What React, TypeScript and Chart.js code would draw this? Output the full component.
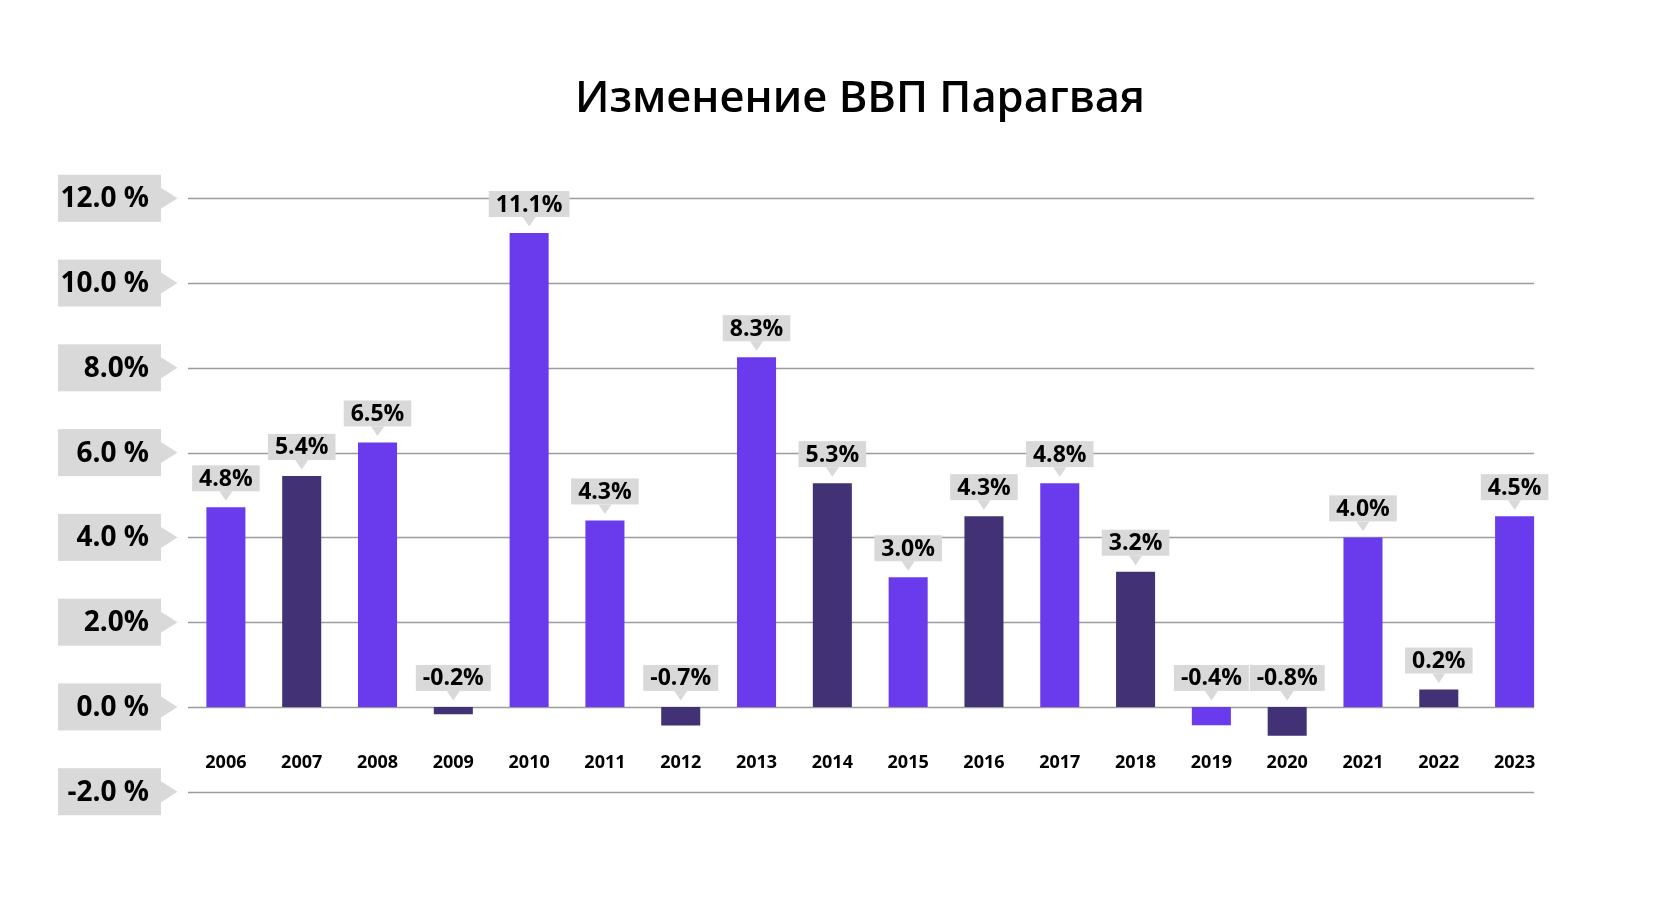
import { useEffect, useRef } from "react";
import { Chart, registerables, ChartConfiguration, Plugin } from "chart.js";

Chart.register(...registerables);

const TITLE = "Изменение ВВП Парагвая";

const years = [
  "2006", "2007", "2008", "2009", "2010", "2011", "2012", "2013", "2014",
  "2015", "2016", "2017", "2018", "2019", "2020", "2021", "2022", "2023",
];

// bar heights as drawn in the picture
const gdpValues = [
  4.71, 5.45, 6.24, -0.17, 11.18, 4.4, -0.44, 8.25, 5.28,
  3.06, 4.5, 5.28, 3.19, -0.43, -0.68, 4.0, 0.41, 4.5,
];

// callout texts printed above the bars
const gdpLabels = [
  "4.8%", "5.4%", "6.5%", "-0.2%", "11.1%", "4.3%", "-0.7%", "8.3%", "5.3%",
  "3.0%", "4.3%", "4.8%", "3.2%", "-0.4%", "-0.8%", "4.0%", "0.2%", "4.5%",
];

const yTicks = [-2, 0, 2, 4, 6, 8, 10, 12];
const yTickLabels = ["-2.0 %", "0.0 %", "2.0%", "4.0 %", "6.0 %", "8.0%", "10.0 %", "12.0 %"];

const LIGHT = "#6a3bec";
const DARK = "#433176";
const barColors = [
  LIGHT, DARK, LIGHT, DARK, LIGHT, LIGHT, DARK, LIGHT, DARK,
  LIGHT, DARK, LIGHT, DARK, LIGHT, DARK, LIGHT, DARK, LIGHT,
];

const FONT = "'Open Sans', 'DejaVu Sans', sans-serif";
const BOX_GRAY = "#d9d9d9";

const decorPlugin: Plugin<"bar"> = {
  id: "decor",
  beforeDatasetsDraw(chart) {
    const { ctx, chartArea } = chart;
    const y = chart.scales.y;
    const meta = chart.getDatasetMeta(0);
    const last = meta.data[meta.data.length - 1] as any;
    const right = last.x + last.width / 2;

    ctx.save();
    // grid lines
    ctx.strokeStyle = "#9c9c9c";
    ctx.lineWidth = 1.5;
    yTicks.forEach((v) => {
      const py = Math.round(y.getPixelForValue(v)) + 0.5;
      ctx.beginPath();
      ctx.moveTo(chartArea.left, py);
      ctx.lineTo(right, py);
      ctx.stroke();
    });

    // tick boxes with arrows
    ctx.font = `700 28px ${FONT}`;
    ctx.textAlign = "right";
    ctx.textBaseline = "middle";
    yTicks.forEach((v, i) => {
      const py = y.getPixelForValue(v);
      const bx = chartArea.left - 130;
      const bw = 103;
      const bh = 47;
      ctx.fillStyle = BOX_GRAY;
      ctx.fillRect(bx, py - bh / 2, bw, bh);
      ctx.beginPath();
      ctx.moveTo(bx + bw, py - 10.5);
      ctx.lineTo(bx + bw + 16.5, py);
      ctx.lineTo(bx + bw, py + 10.5);
      ctx.closePath();
      ctx.fill();
      ctx.fillStyle = "#000";
      ctx.fillText(yTickLabels[i], bx + 91, py + 1);
    });
    ctx.restore();
  },
  afterDatasetsDraw(chart) {
    const { ctx } = chart;
    const x = chart.scales.x;
    const y = chart.scales.y;
    const meta = chart.getDatasetMeta(0);

    ctx.save();
    // value callouts
    ctx.font = `700 23px ${FONT}`;
    ctx.textAlign = "center";
    ctx.textBaseline = "middle";
    meta.data.forEach((bar: any, i) => {
      const top = Math.min(bar.y, y.getPixelForValue(0));
      const tipY = top - 6.5;
      const boxBottom = tipY - 9.5;
      const boxH = 26;
      const tw = ctx.measureText(gdpLabels[i]).width;
      const bw = Math.max(65, tw + 14);
      ctx.fillStyle = BOX_GRAY;
      ctx.fillRect(bar.x - bw / 2, boxBottom - boxH, bw, boxH);
      ctx.beginPath();
      ctx.moveTo(bar.x - 6.5, boxBottom);
      ctx.lineTo(bar.x, tipY);
      ctx.lineTo(bar.x + 6.5, boxBottom);
      ctx.closePath();
      ctx.fill();
      ctx.fillStyle = "#000";
      ctx.fillText(gdpLabels[i], bar.x, boxBottom - boxH / 2 + 1);
    });

    // year labels
    ctx.font = `700 18px ${FONT}`;
    ctx.fillStyle = "#000";
    years.forEach((yr, i) => {
      ctx.fillText(yr, x.getPixelForValue(i), 763);
    });

    // title
    ctx.font = `600 43.5px ${FONT}`;
    ctx.textBaseline = "alphabetic";
    ctx.fillText(TITLE, 860, 112);
    ctx.restore();
  },
};

export default function App() {
  const canvasRef = useRef<HTMLCanvasElement>(null);

  useEffect(() => {
    document.body.style.margin = "0";
    if (!canvasRef.current) return;
    const ctx = canvasRef.current.getContext("2d");
    if (!ctx) return;

    const config: ChartConfiguration<"bar"> = {
      type: "bar",
      data: {
        labels: years,
        datasets: [
          {
            data: gdpValues,
            backgroundColor: barColors,
            borderWidth: 0,
            barPercentage: 0.515,
            categoryPercentage: 1,
          },
        ],
      },
      options: {
        responsive: false,
        animation: false,
        devicePixelRatio: 1,
        layout: {
          padding: { left: 188, right: 127.5, top: 198.3, bottom: 115.3 },
        },
        scales: {
          x: { display: false },
          y: { display: false, min: -2, max: 12 },
        },
        plugins: {
          legend: { display: false },
          tooltip: { enabled: false },
        },
      },
      plugins: [decorPlugin],
    };

    const chart = new Chart(ctx, config);
    return () => {
      chart.destroy();
    };
  }, []);

  return (
    <div style={{ width: 1680, height: 907, background: "#fff" }}>
      <canvas ref={canvasRef} width={1680} height={907} />
    </div>
  );
}
